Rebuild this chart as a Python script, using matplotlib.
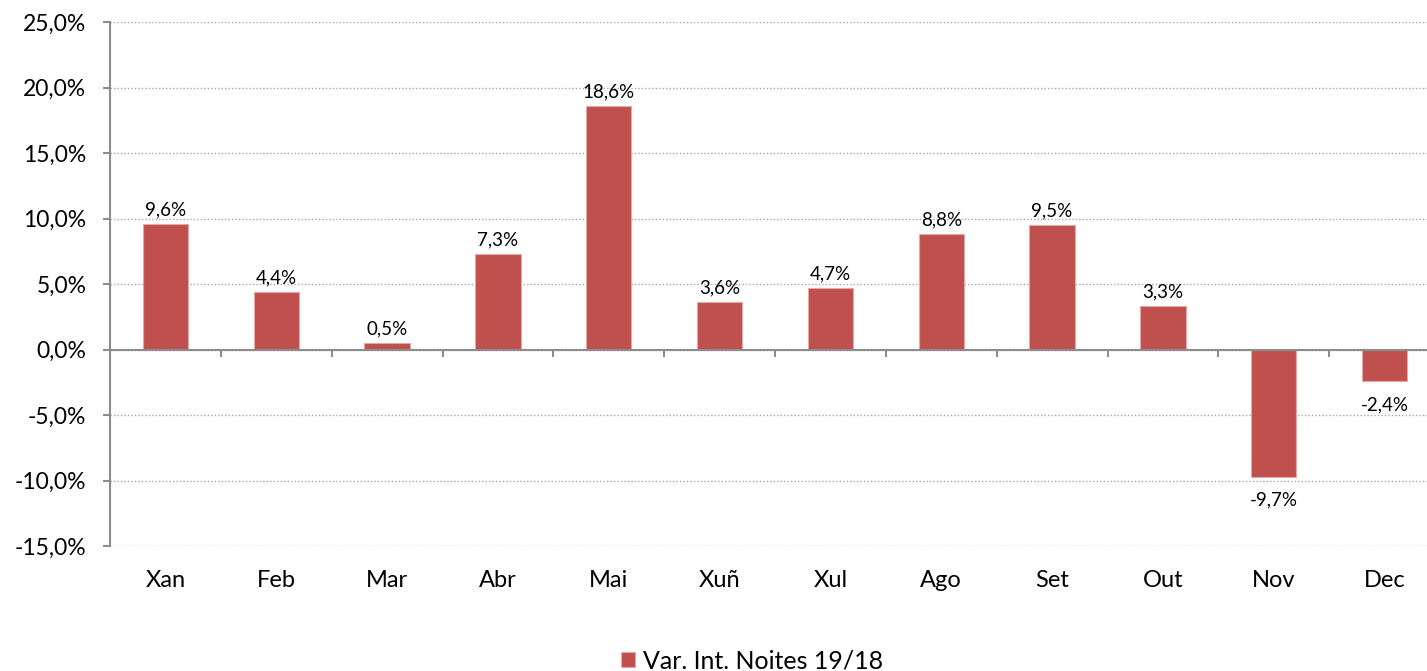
import numpy as np
import matplotlib
matplotlib.use("Agg")
import matplotlib.pyplot as plt
from matplotlib.ticker import FuncFormatter

plt.rcParams['font.family'] = ['Lato', 'DejaVu Sans']

months = ['Xan', 'Feb', 'Mar', 'Abr', 'Mai', 'Xuñ', 'Xul', 'Ago', 'Set', 'Out', 'Nov', 'Dec']
var_noites = [9.6, 4.4, 0.5, 7.3, 18.6, 3.6, 4.7, 8.8, 9.5, 3.3, -9.7, -2.4]
series_name = 'Var. Int. Noites 19/18'

bar_color = '#C0504D'
axis_grey = '#8C8C8C'

fig = plt.figure(figsize=(14.27, 6.71), dpi=100)
# plot area runs slightly past the right edge of the picture
ax = fig.add_axes([110 / 1427, 125 / 671, (1440 - 110) / 1427, (546 - 22) / 671])

x = np.arange(len(months))
bars = ax.bar(x, var_noites, width=0.41, color=bar_color, edgecolor='#E3A9A7',
              linewidth=0.8, label=series_name, zorder=3)

ax.set_xlim(-0.5, len(months) - 0.5)
ax.set_ylim(-15, 25)
ax.set_yticks(np.arange(-15, 26, 5))
ax.yaxis.set_major_formatter(FuncFormatter(lambda v, p: f'{v:.1f}%'.replace('.', ',')))

# grid
ax.grid(axis='y', linestyle=(0, (1, 1.5)), color='#A6A6A6', linewidth=1.0, zorder=0)
ax.set_axisbelow(True)

for s in ['top', 'right', 'bottom']:
    ax.spines[s].set_visible(False)
ax.spines['left'].set_color(axis_grey)
ax.spines['left'].set_linewidth(1.5)

# zero line with category separators
ax.axhline(0, color=axis_grey, linewidth=1.5, zorder=4)
ax.vlines(np.arange(0.5, len(months) - 0.5, 1), -0.55, 0, color=axis_grey, linewidth=1.5, zorder=4)

ax.set_xticks(x)
ax.set_xticklabels(months, fontsize=17)
ax.tick_params(axis='x', length=0, pad=17)
ax.tick_params(axis='y', length=5, width=1.5, color=axis_grey, labelsize=16.5, pad=12)

# data labels
for xi, v in zip(x, var_noites):
    lbl = f'{v:.1f}%'.replace('.', ',')
    if v >= 0:
        ax.annotate(lbl, (xi, v), xytext=(0, 4), textcoords='offset points',
                    ha='center', va='bottom', fontsize=13.5)
    else:
        ax.annotate(lbl, (xi, v), xytext=(0, -11), textcoords='offset points',
                    ha='center', va='top', fontsize=13.5)

fig.legend(handles=[bars], labels=[series_name], loc='lower center',
           bbox_to_anchor=(0.527, -0.036), frameon=False, fontsize=18,
           handlelength=0.55, handleheight=0.55, handletextpad=0.3)

fig.savefig('out.png', dpi=100)
